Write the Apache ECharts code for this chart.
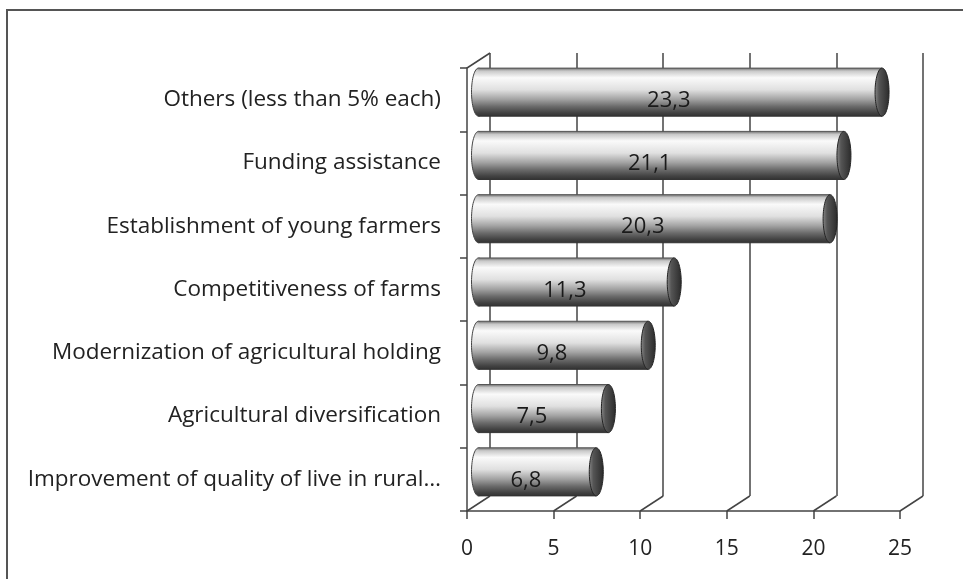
<!DOCTYPE html>
<html><head><meta charset="utf-8">
<style>html,body{margin:0;padding:0;background:#fff}#c{width:963px;height:579px}</style>
<script src="https://cdn.jsdelivr.net/npm/echarts@6/dist/echarts.min.js"></script>
</head><body><div id="c"></div>
<script>
const categories = [
  'Others (less than 5% each)',
  'Funding assistance',
  'Establishment of young farmers',
  'Competitiveness of farms',
  'Modernization of agricultural holding',
  'Agricultural diversification',
  'Improvement of quality of live in rural\u2026'
];
const values = [23.3, 21.1, 20.3, 11.3, 9.8, 7.5, 6.8];
const tickValues = [0, 5, 10, 15, 20, 25];

const FONT = 'Open Sans';
const DX = 23, DY = -15;
const chart = echarts.init(document.getElementById('c'));

const barGrad = {
  type: 'linear', x: 0, y: 0, x2: 0, y2: 1,
  colorStops: [
    {offset: 0, color: '#707070'},
    {offset: 0.06, color: '#c8c8c8'},
    {offset: 0.2, color: '#fafafa'},
    {offset: 0.45, color: '#e0e0e0'},
    {offset: 0.65, color: '#a2a2a2'},
    {offset: 0.8, color: '#6a6a6a'},
    {offset: 0.93, color: '#424242'},
    {offset: 1, color: '#333'}
  ]
};
const capGrad = {
  type: 'linear', x: 0, y: 0, x2: 1, y2: 0,
  colorStops: [
    {offset: 0, color: '#8a8a8a'},
    {offset: 0.3, color: '#555'},
    {offset: 1, color: '#2a2a2a'}
  ]
};

chart.setOption({
  animation: false,
  graphic: [{
    type: 'rect', shape: {x: 7, y: 10, width: 980, height: 600},
    style: {fill: null, stroke: '#555', lineWidth: 2}, z: -10
  }],
  grid: [
    {left: 467, right: 63, top: 68, bottom: 68},
    {left: 490, right: 40, top: 53, bottom: 83}
  ],
  xAxis: [
    {
      type: 'value', gridIndex: 0, min: 0, max: 25, interval: 5,
      axisLine: {show: true, lineStyle: {color: '#444', width: 1.5}},
      axisTick: {show: true, length: 8, lineStyle: {color: '#444', width: 1.5}},
      axisLabel: {fontFamily: FONT, fontSize: 21, color: '#222', margin: 28},
      splitLine: {show: false}
    },
    {
      type: 'value', gridIndex: 1, min: 0, max: 25, interval: 5,
      axisLine: {show: false}, axisTick: {show: false}, axisLabel: {show: false},
      splitLine: {show: true, lineStyle: {color: '#444', width: 1.5}}
    }
  ],
  yAxis: [
    {
      type: 'category', gridIndex: 0, data: categories, inverse: true,
      axisLine: {show: true, lineStyle: {color: '#444', width: 1.5}},
      axisTick: {show: true, length: 7, lineStyle: {color: '#444', width: 1.5}},
      axisLabel: {fontFamily: FONT, fontSize: 22.5, color: '#222', margin: 26}
    },
    {
      type: 'category', gridIndex: 1, data: categories, inverse: true, show: false
    }
  ],
  series: [
    {
      type: 'custom', xAxisIndex: 0, yAxisIndex: 0, z: 1,
      data: tickValues.map(v => [v, categories.length - 1]),
      renderItem: function (params, api) {
        const cs = params.coordSys;
        const x = api.coord([api.value(0), 0])[0];
        const yb = cs.y + cs.height;
        const children = [{
          type: 'line', shape: {x1: x, y1: yb, x2: x + DX, y2: yb + DY},
          style: {stroke: '#444', lineWidth: 1.5}
        }];
        if (api.value(0) === 0) {
          children.push({
            type: 'line', shape: {x1: cs.x, y1: cs.y, x2: cs.x + DX, y2: cs.y + DY},
            style: {stroke: '#444', lineWidth: 1.5}
          });
        }
        return {type: 'group', children: children};
      }
    },
    {
      type: 'custom', xAxisIndex: 0, yAxisIndex: 0, z: 5,
      data: values.map((v, i) => [v, i]),
      renderItem: function (params, api) {
        const v = api.value(0);
        const p0 = api.coord([0, api.value(1)]);
        const p1 = api.coord([v, api.value(1)]);
        const band = api.size([0, 1])[1];
        const h = band * 0.76;
        const ox = DX / 2, oy = DY / 2;
        const cy = p0[1] + oy;
        const x0 = p0[0] + ox, x1 = p1[0] + ox;
        const rx = 7;
        const label = v.toFixed(1).replace('.', ',');
        return {
          type: 'group',
          children: [
            {type: 'ellipse', shape: {cx: x0, cy: cy, rx: rx, ry: h / 2},
             style: {fill: barGrad, stroke: '#444', lineWidth: 1}},
            {type: 'rect', shape: {x: x0, y: cy - h / 2, width: x1 - x0, height: h},
             style: {fill: barGrad, stroke: null}},
            {type: 'line', shape: {x1: x0, y1: cy - h / 2, x2: x1, y2: cy - h / 2},
             style: {stroke: '#555', lineWidth: 1}},
            {type: 'line', shape: {x1: x0, y1: cy + h / 2, x2: x1, y2: cy + h / 2},
             style: {stroke: '#333', lineWidth: 1}},
            {type: 'ellipse', shape: {cx: x1, cy: cy, rx: rx, ry: h / 2},
             style: {fill: capGrad, stroke: '#222', lineWidth: 1}},
            {type: 'text', style: {
              x: (p0[0] + p1[0]) / 2, y: p0[1] + 1, text: label,
              fontFamily: FONT, fontSize: 22, fill: '#1a1a1a',
              align: 'center', verticalAlign: 'middle'
            }, z2: 10}
          ]
        };
      }
    }
  ]
});
</script></body></html>
